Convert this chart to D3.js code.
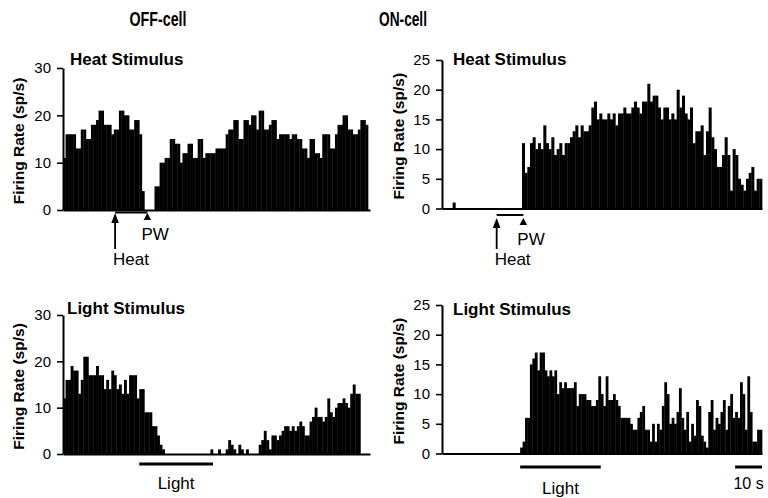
<!DOCTYPE html>
<html>
<head>
<meta charset="utf-8">
<script src="https://cdn.jsdelivr.net/npm/d3@7"></script>
<style>
  body { margin: 0; background: #fff; }
  svg { display: block; font-family: "Liberation Sans", Arial, sans-serif; }
  .domain { stroke: #000; stroke-width: 2; }
  .tick line { stroke: #000; stroke-width: 1.6; }
  .tick text { font-size: 15px; fill: #000; }
</style>
</head>
<body>
<svg id="chart" width="768" height="498"></svg>
<script>
// firing rate, 1 s bins (sp/s)
const offHeatRate = [11,16,16,16,16,13,13,17,17,15, 15,18,18,19,21,21,18,18,18,16, 17,17,21,21,20,20,17,17,19,19,
  16,4,0,0,0,0,5,5,10,10, 11,11,15,15,14,14,10,12,12,14, 14,11,11,15,15,11,12,12,12,12,
  13,13,13,13,16,17,17,19,19,15, 15,19,19,18,20,20,17,21,21,17, 17,18,19,19,15,16,16,16,16,15,
  16,16,15,15,13,13,11,15,15,12, 12,11,16,16,16,13,13,16,18,18, 20,20,17,17,16,16,17,19,19,18];

const onHeatRate = [0,0,0,0,1,0,0,0,0,0, 0,0,0,0,0,0,0,0,0,0, 0,0,0,0,0,0,0,0,0,0,
  11,6,7,11,12,10,11,10,14,11, 10,12,9,10,11,9,11,11,12,13, 14,12,14,13,13,14,17,18,15,16,
  15,15,16,15,16,14,16,16,17,16, 16,17,18,17,16,18,18,21,18,19, 19,17,15,17,17,15,16,15,20,17,
  19,16,15,17,11,13,13,14,9,13, 17,12,10,7,7,9,12,9,3,10, 9,5,4,3,5,6,7,3,5,5];

const offLightRate = [12,16,16,19,18,18,13,16,21,21, 17,17,17,19,17,17,14,16,14,18, 17,14,15,13,16,13,17,17,17,12,
  14,14,9,9,9,6,6,4,2,1, 0,0,0,0,0,0,0,0,0,0, 0,0,0,0,0,0,0,0,1,0,
  0,1,0,0,1,3,2,1,0,2, 1,0,1,0,0,0,0,2,3,5, 3,1,4,4,3,4,5,6,6,5,
  6,5,6,7,6,4,4,7,8,10, 8,8,7,8,12,9,8,10,11,11, 12,11,10,13,15,13,13,0,0,0];

const onLightRate = [0,0,0,0,0,0,0,0,0,0, 0,0,0,0,0,0,0,0,0,0, 0,0,0,0,0,0,0,0,0,0, 0,0,
  1,2,6,6,15,16,17,14,17,17, 14,13,14,13,14,10,12,11,12,11, 11,11,12,8,10,10,10,9,9,8,
  8,9,13,10,8,13,9,9,10,9, 8,6,6,6,6,5,4,4,6,7, 8,4,4,2,5,2,5,4,8,12,
  10,5,6,5,7,11,6,4,7,2, 5,3,9,8,3,2,1,7,9,4, 6,5,7,9,4,8,10,6,7,6,
  12,10,4,13,7,2,2,4,4];

const offTicks = [0, 10, 20, 30];
const onTicks = [0, 5, 10, 15, 20, 25];
const columnTitles = ["OFF-cell", "ON-cell"];

const svg = d3.select("#chart");

// column titles (condensed bold)
svg.selectAll(".col-title")
  .data(columnTitles)
  .join("text")
  .attr("class", "col-title")
  .attr("x", (d, i) => i === 0 ? 158 : 403)
  .attr("y", 26)
  .attr("text-anchor", "middle")
  .attr("textLength", (d, i) => i === 0 ? 57 : 48)
  .attr("lengthAdjust", "spacingAndGlyphs")
  .style("font-weight", "bold")
  .style("font-size", "20px")
  .text(d => d);

function drawPanel(p) {
  const g = svg.append("g");
  const x = d3.scaleLinear().domain([0, p.data.length]).range([p.x0, p.x1]);
  const y = d3.scaleLinear().domain([0, d3.max(p.ticks)]).range([p.y0, p.yTop]);

  g.selectAll(".bar")
    .data(p.data)
    .join("rect")
    .attr("class", "bar")
    .attr("x", (d, i) => x(i))
    .attr("width", x(1) - x(0) + 0.35)
    .attr("y", d => y(d))
    .attr("height", d => y(0) - y(d))
    .attr("fill", "#000");

  g.append("g")
    .attr("transform", `translate(${p.x0},0)`)
    .call(d3.axisLeft(y).tickValues(p.ticks).tickSize(6).tickSizeOuter(0).tickPadding(6));

  const xAxis = d3.scaleLinear().domain([0, 1]).range([p.x0, p.axisEnd]);
  g.append("g")
    .attr("transform", `translate(0,${p.y0})`)
    .call(d3.axisBottom(xAxis).tickValues([]).tickSizeOuter(0));

  g.append("text")
    .attr("transform", `translate(${p.labelX},${(p.y0 + p.yTop) / 2 + 2}) rotate(-90)`)
    .attr("text-anchor", "middle")
    .style("font-weight", "bold")
    .style("font-size", "15.5px")
    .text("Firing Rate (sp/s)");

  g.append("text")
    .attr("x", p.titleX)
    .attr("y", p.titleY)
    .style("font-weight", "bold")
    .style("font-size", "17px")
    .text(p.title);

  return { g, x, y };
}

function heatMarker(panel, m) {
  const { g, x } = panel;
  const ax = x(m.onset), px = x(m.pw);
  g.append("line")
    .attr("x1", ax).attr("x2", px).attr("y1", m.barY).attr("y2", m.barY)
    .attr("stroke", "#000").attr("stroke-width", 2);
  g.append("line")
    .attr("x1", ax).attr("x2", ax).attr("y1", m.tipY + 6).attr("y2", 249)
    .attr("stroke", "#000").attr("stroke-width", 1.8);
  g.append("path")
    .attr("d", `M${ax},${m.tipY}L${ax - 3.8},${m.tipY + 10}L${ax + 3.8},${m.tipY + 10}Z`)
    .attr("fill", "#000");
  g.append("path")
    .attr("d", `M${px},${m.tipY}L${px - 3.8},${m.tipY + 7}L${px + 3.8},${m.tipY + 7}Z`)
    .attr("fill", "#000");
  g.append("text").attr("x", px - 6).attr("y", m.pwY)
    .style("font-size", "17px").text("PW");
  g.append("text").attr("x", ax - 2).attr("y", 265)
    .style("font-size", "17px").text("Heat");
}

function lightMarker(panel, m) {
  const { g, x } = panel;
  g.append("line")
    .attr("x1", x(m.start)).attr("x2", x(m.end)).attr("y1", m.barY).attr("y2", m.barY)
    .attr("stroke", "#000").attr("stroke-width", 3);
  g.append("text")
    .attr("x", (x(m.start) + x(m.end)) / 2).attr("y", m.textY)
    .attr("text-anchor", "middle")
    .style("font-size", "17px").text("Light");
}

const p1 = drawPanel({ data: offHeatRate, ticks: offTicks, x0: 63, x1: 368, axisEnd: 370,
  y0: 210, yTop: 68, labelX: 24, title: "Heat Stimulus", titleX: 70, titleY: 65 });
const p2 = drawPanel({ data: onHeatRate, ticks: onTicks, x0: 442, x1: 762, axisEnd: 762,
  y0: 208.5, yTop: 60, labelX: 404, title: "Heat Stimulus", titleX: 453, titleY: 65 });
const p3 = drawPanel({ data: offLightRate, ticks: offTicks, x0: 63, x1: 368, axisEnd: 370,
  y0: 454, yTop: 315, labelX: 24, title: "Light Stimulus", titleX: 67, titleY: 314 });
const p4 = drawPanel({ data: onLightRate, ticks: onTicks, x0: 442, x1: 762, axisEnd: 762,
  y0: 453.5, yTop: 305, labelX: 404, title: "Light Stimulus", titleX: 453, titleY: 315 });

heatMarker(p1, { onset: 20.5, pw: 33.2, barY: 212.5, tipY: 213, pwY: 240 });
heatMarker(p2, { onset: 20.5, pw: 30.5, barY: 215, tipY: 218, pwY: 245 });
lightMarker(p3, { start: 30, end: 59, barY: 464, textY: 489 });
lightMarker(p4, { start: 32, end: 65, barY: 467, textY: 494 });

// 10 s scale bar
const sb = onLightRate.length;
p4.g.append("line")
  .attr("x1", p4.x(sb - 11)).attr("x2", p4.x(sb)).attr("y1", 467).attr("y2", 467)
  .attr("stroke", "#000").attr("stroke-width", 3);
p4.g.append("text")
  .attr("x", (p4.x(sb - 11) + p4.x(sb)) / 2).attr("y", 489)
  .attr("text-anchor", "middle")
  .style("font-size", "16px").text("10 s");
</script>
</body>
</html>
